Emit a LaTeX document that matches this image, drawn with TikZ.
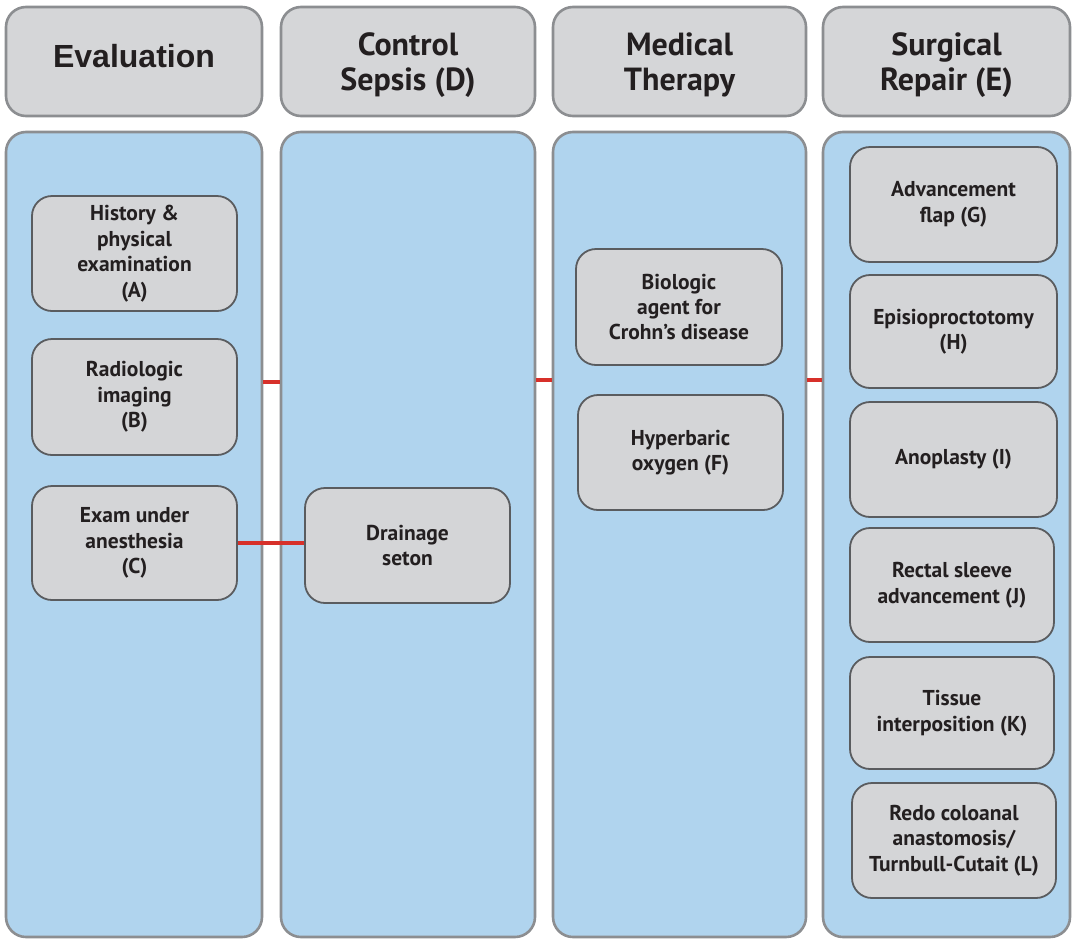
\documentclass[tikz,border=0pt]{standalone}
\usepackage{fontspec}
\setmainfont{PT Sans}
\newfontfamily\arialfont{Liberation Sans}
\definecolor{headfill}{HTML}{D5D6D8}
\definecolor{headline}{HTML}{8C8E91}
\definecolor{panelfill}{HTML}{B0D4EE}
\definecolor{itemfill}{HTML}{D4D5D7}
\definecolor{itemline}{HTML}{5A5C5F}
\definecolor{linkred}{HTML}{D7302A}
\definecolor{ink}{HTML}{231F20}
\begin{document}
\begin{tikzpicture}[x=1pt,y=-1pt,
  box/.style={rectangle,inner sep=0pt,align=center,text=ink},
  head/.style={box,draw=headline,fill=headfill,line width=2.6pt,rounded corners=20pt,
    minimum height=109pt,text depth=0pt,font=\bfseries\fontsize{32}{35}\selectfont},
  panel/.style={box,draw=headline,fill=panelfill,line width=2.6pt,rounded corners=20pt,
    minimum height=805pt},
  item/.style={box,draw=itemline,fill=itemfill,line width=1.8pt,rounded corners=20pt,
    font=\bfseries\fontsize{21.5}{25.5}\selectfont},
  link/.style={draw=linkred,line width=3.2pt}]
\useasboundingbox[fill=white] (0,0) rectangle (1073,940);

% column headers
\node[head,minimum width=256pt,text depth=12pt,font=\arialfont\bfseries\fontsize{32}{35}\selectfont]
  (h1) at (134,61.5) {Evaluation};
\node[head,minimum width=254pt] (h2) at (408,61.5) {Control\\Sepsis (D)};
\node[head,minimum width=253pt] (h3) at (679.5,61.5) {Medical\\Therapy};
\node[head,minimum width=247pt] (h4) at (946.5,61.5) {Surgical\\Repair (E)};

% column panels
\node[panel,minimum width=256pt] (p1) at (134,534.5) {};
\node[panel,minimum width=254pt] (p2) at (408,534.5) {};
\node[panel,minimum width=253pt] (p3) at (679.5,534.5) {};
\node[panel,minimum width=247pt] (p4) at (946.5,534.5) {};

% evaluation steps
\node[item,minimum width=205pt,minimum height=115pt] (a) at (134.5,253.5) {History \&\\physical\\examination\\(A)};
\node[item,minimum width=205pt,minimum height=116pt] (b) at (134.5,397) {Radiologic\\imaging\\(B)};
\node[item,minimum width=205pt,minimum height=114pt] (c) at (134.5,543) {Exam under\\anesthesia\\(C)};

% sepsis control
\node[item,minimum width=205pt,minimum height=115pt] (d) at (407.5,545.5) {Drainage\\seton};

% medical therapy
\node[item,minimum width=206pt,minimum height=116pt] (bio) at (679,307) {Biologic\\agent for\\Crohn’s disease};
\node[item,minimum width=205pt,minimum height=115pt] (hyp) at (680.5,452.5) {Hyperbaric\\oxygen (F)};

% surgical repair
\node[item,minimum width=207pt,minimum height=115pt] (g) at (953.5,204.5) {Advancement\\flap (G)};
\node[item,minimum width=207pt,minimum height=113pt] (hh) at (953.5,331.5) {Episioproctotomy\\(H)};
\node[item,minimum width=207pt,minimum height=115pt] (i) at (953.5,459.5) {Anoplasty (I)};
\node[item,minimum width=204pt,minimum height=114pt] (j) at (952,585) {Rectal sleeve\\advancement (J)};
\node[item,minimum width=204pt,minimum height=112pt] (k) at (952,713) {Tissue\\interposition (K)};
\node[item,minimum width=204pt,minimum height=115pt] (l) at (954,840.5) {Redo coloanal\\anastomosis/\\Turnbull-Cutait (L)};

% links between columns
\coordinate (y1) at (0,382);
\coordinate (y2) at (0,380);
\draw[link] (p1.east |- y1) -- (p2.west |- y1);
\draw[link] (p2.east |- y2) -- (p3.west |- y2);
\draw[link] (p3.east |- y2) -- (p4.west |- y2);
\draw[link] (c.east) -- (c.east -| d.west);
\end{tikzpicture}
\end{document}
